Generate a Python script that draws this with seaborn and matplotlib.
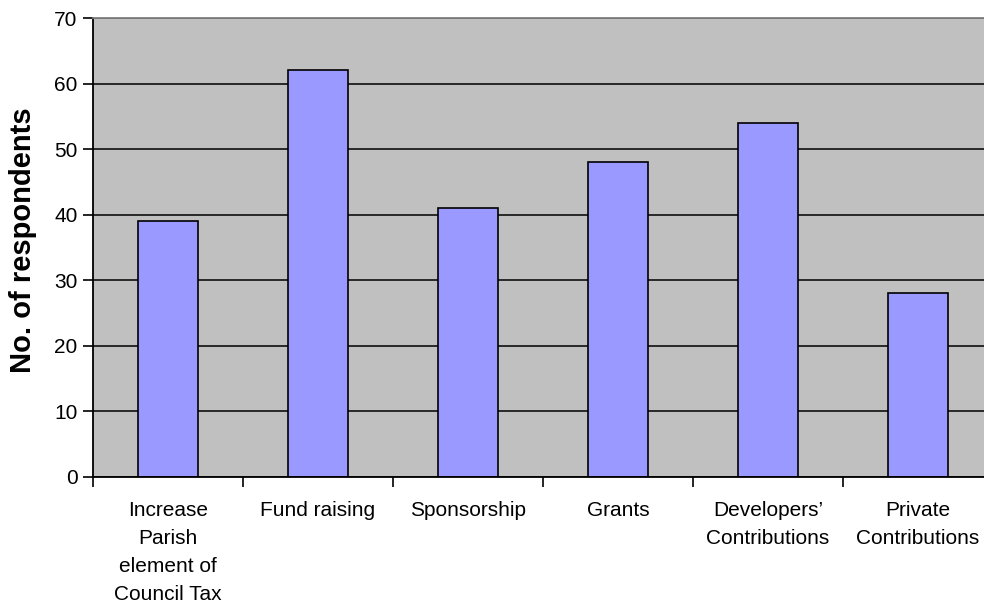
import numpy as np
import pandas as pd
import matplotlib
matplotlib.use("Agg")
import matplotlib.pyplot as plt
import seaborn as sns

# data
categories = ["Increase\nParish\nelement of\nCouncil Tax", "Fund raising", "Sponsorship",
              "Grants", "Developers’\nContributions", "Private\nContributions"]
respondents = [39, 62, 41, 48, 54, 28]
y_ticks = [0, 10, 20, 30, 40, 50, 60, 70]

df = pd.DataFrame({"cat": categories, "n": respondents})

sns.set_style("white")
plt.rcParams["font.family"] = ["Liberation Sans", "DejaVu Sans"]
plt.rcParams["text.color"] = "black"
plt.rcParams["axes.labelcolor"] = "black"
plt.rcParams["xtick.color"] = "black"
plt.rcParams["ytick.color"] = "black"

fig = plt.figure(figsize=(9.84, 6.02), dpi=100)
ax = fig.add_axes([93 / 984, 125 / 602, 900 / 984, 459 / 602])
ax.set_facecolor("#C0C0C0")

sns.barplot(data=df, x="cat", y="n", color="#9999FF", edgecolor="black",
            linewidth=1.2, width=0.4, saturation=1, ax=ax)

ax.set_ylim(0, 70)
ax.set_xlim(-0.5, len(categories) - 0.5)
ax.set_yticks(y_ticks)
ax.yaxis.grid(True, color="black", linewidth=1.1)
ax.set_axisbelow(True)

# category boundary ticks
ax.set_xticks(np.arange(-0.5, len(categories), 1), minor=True)
ax.tick_params(axis="x", which="both", bottom=True)
ax.tick_params(axis="y", left=True)
ax.tick_params(axis="x", which="major", length=0, pad=17, labelsize=15, labelcolor="black")
ax.tick_params(axis="x", which="minor", length=7, width=1.2, color="black", direction="out")
ax.tick_params(axis="y", length=7, width=1.2, color="black", direction="out",
               labelsize=15, pad=4, labelcolor="black")
for lab in ax.get_xticklabels():
    lab.set_linespacing(1.6)
    lab.set_verticalalignment("top")

ax.set_xlabel("")
ax.set_ylabel("No. of respondents", fontsize=21, fontweight="bold", color="black")
ax.yaxis.set_label_coords(-0.062, 0.515)

for side in ["left", "bottom"]:
    ax.spines[side].set_color("black")
    ax.spines[side].set_linewidth(1.3)
ax.spines["top"].set_color("#808080")
ax.spines["top"].set_linewidth(1.3)
ax.spines["right"].set_visible(False)

fig.savefig("out.png", dpi=100)
